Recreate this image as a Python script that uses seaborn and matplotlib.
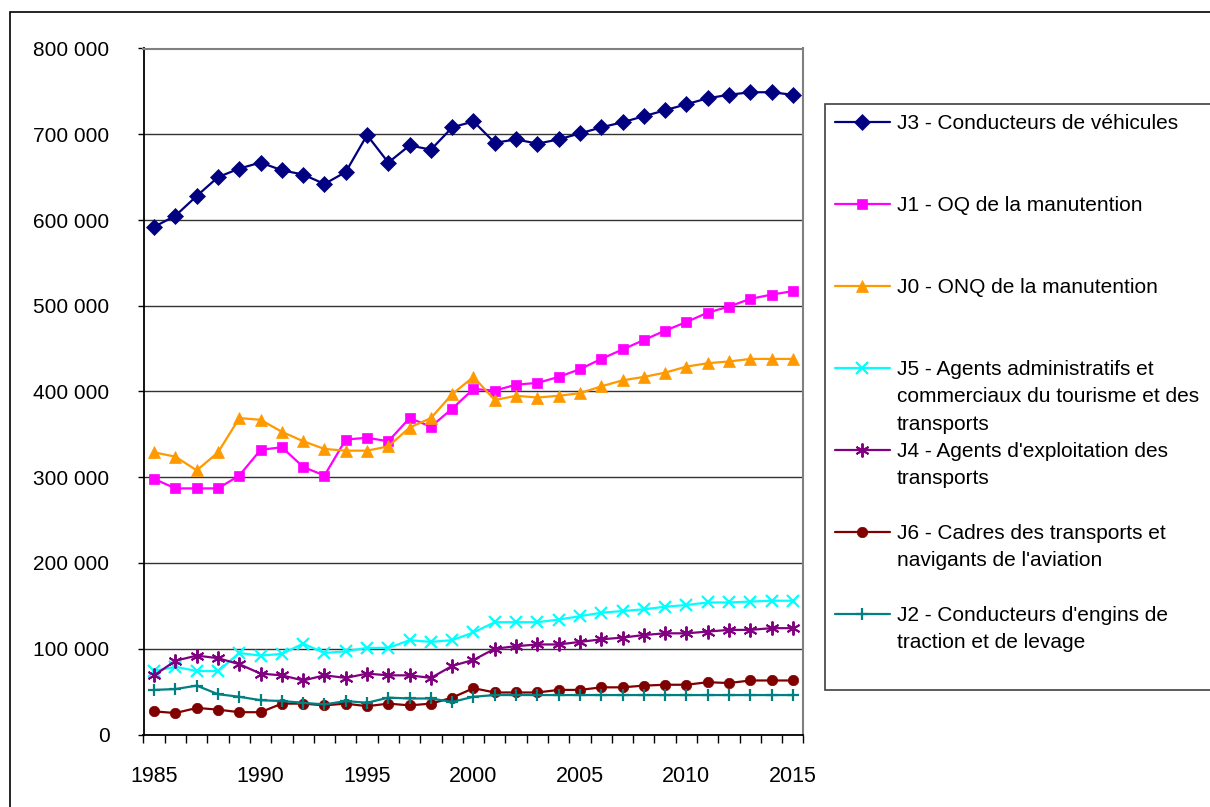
import matplotlib.pyplot as plt
import matplotlib.ticker as mticker
from matplotlib.lines import Line2D
from matplotlib.patches import Rectangle
import seaborn as sns

# années (axe des catégories)
years = list(range(1985, 2016))

# effectifs par famille professionnelle
j3 = [592000, 605000, 628000, 650000, 660000, 667000, 658000, 653000, 642000, 656000,
      699000, 667000, 687000, 682000, 708000, 715000, 690000, 694000, 689000, 694000,
      701000, 708000, 714000, 721000, 728000, 735000, 742000, 746000, 749000, 749000, 746000]
j1 = [298000, 287000, 287000, 287000, 302000, 332000, 335000, 312000, 302000, 344000,
      346000, 342000, 369000, 359000, 380000, 403000, 401000, 408000, 410000, 417000,
      426000, 438000, 449000, 460000, 471000, 481000, 492000, 499000, 508000, 513000, 517000]
j0 = [329000, 324000, 308000, 329000, 369000, 367000, 353000, 342000, 333000, 331000,
      331000, 336000, 358000, 369000, 397000, 417000, 390000, 395000, 393000, 395000,
      398000, 406000, 413000, 417000, 422000, 429000, 433000, 435000, 438000, 438000, 438000]
j5 = [74000, 79000, 74000, 74000, 95000, 92000, 94000, 106000, 95000, 97000,
      101000, 101000, 110000, 108000, 110000, 119000, 131000, 131000, 131000, 134000,
      138000, 142000, 144000, 146000, 149000, 151000, 154000, 154000, 155000, 156000, 156000]
j4 = [69000, 86000, 92000, 89000, 82000, 71000, 69000, 63000, 69000, 66000,
      71000, 69000, 69000, 66000, 80000, 87000, 100000, 103000, 105000, 105000,
      108000, 111000, 113000, 116000, 118000, 118000, 120000, 122000, 122000, 124000, 124000]
j6 = [27000, 25000, 31000, 29000, 26000, 26000, 36000, 36000, 34000, 36000,
      33000, 36000, 34000, 36000, 43000, 54000, 49000, 49000, 49000, 52000,
      52000, 55000, 55000, 57000, 58000, 58000, 61000, 60000, 63000, 63000, 63000]
j2 = [52000, 53000, 57000, 47000, 44000, 40000, 39000, 37000, 35000, 39000,
      37000, 43000, 42000, 42000, 38000, 44000, 46000, 46000, 46000, 46000,
      46000, 46000, 46000, 46000, 46000, 46000, 46000, 46000, 46000, 46000, 46000]

series = [j3, j1, j0, j5, j4, j6, j2]
labels = [
    ["J3 - Conducteurs de véhicules"],
    ["J1 - OQ de la manutention"],
    ["J0 - ONQ de la manutention"],
    ["J5 - Agents administratifs et", "commerciaux du tourisme et des", "transports"],
    ["J4 - Agents d'exploitation des", "transports"],
    ["J6 - Cadres des transports et", "navigants de l'aviation"],
    ["J2 - Conducteurs d'engins de", "traction et de levage"],
]
colors = ['#000080', '#FF00FF', '#FF9900', '#00FFFF', '#800080', '#800000', '#008080']
markers = ['D', 's', '^', 'x', (6, 2, 0), 'o', '+']
msizes = [8, 7.5, 8.5, 8, 10, 7.5, 8.5]
mews = [0.5, 0.5, 0.5, 1.6, 1.4, 0.5, 1.6]

sns.set_style('white')
plt.rcParams['font.family'] = ['Liberation Sans', 'DejaVu Sans']
plt.rcParams['text.color'] = 'black'
plt.rcParams['xtick.labelcolor'] = 'black'
plt.rcParams['ytick.labelcolor'] = 'black'

fig = plt.figure(figsize=(12.1, 8.07), dpi=100)
ax = fig.add_axes([143.5 / 1210, (807 - 734.5) / 807, (803.5 - 143.5) / 1210, (734.5 - 48.5) / 807])

handles = []
for vals, c, m, ms, mew in zip(series, colors, markers, msizes, mews):
    sns.lineplot(x=years, y=vals, ax=ax, color=c, marker=m, markersize=ms,
                 markeredgecolor=c, markeredgewidth=mew, linewidth=1.6, legend=False)
    handles.append(ax.lines[-1])

ax.set_xlim(1984.5, 2015.5)
ax.set_ylim(0, 800000)
ax.set_xticks(range(1985, 2016, 5))
ax.xaxis.set_minor_locator(mticker.FixedLocator([y + 0.5 for y in range(1984, 2016)]))
ax.set_yticks(range(0, 800001, 100000))
ax.yaxis.set_major_formatter(mticker.FuncFormatter(lambda v, p: f"{int(v):,}".replace(",", " ")))
ax.tick_params(axis='x', which='both', bottom=True)
ax.tick_params(axis='y', which='major', left=True)
ax.tick_params(axis='x', which='major', length=0, pad=23, labelsize=15.5)
ax.tick_params(axis='x', which='minor', length=5.5, width=1, direction='out', color='black')
ax.tick_params(axis='y', which='major', length=4.5, width=1, direction='out', color='black',
               pad=20, labelsize=15)
ax.set_xlabel('')
ax.set_ylabel('')

ax.yaxis.grid(True, color='#333333', linewidth=1)
ax.xaxis.grid(False)
ax.set_axisbelow(True)
for s in ['left', 'bottom']:
    ax.spines[s].set_color('black')
    ax.spines[s].set_linewidth(1.3)
for s in ['top', 'right']:
    ax.spines[s].set_color('#808080')
    ax.spines[s].set_linewidth(1.5)

# légende : une ligne par entrée, lignes vides pour l'espacement
blank = Line2D([], [], color='none')
leg_h, leg_l = [], []
gaps = [2, 2, 2, 0, 1, 1, 1]
for h, lab, g in zip(handles, labels, gaps):
    leg_h.append(h)
    leg_l.append(lab[0])
    for extra in lab[1:]:
        leg_h.append(blank)
        leg_l.append(extra)
    for _ in range(g):
        leg_h.append(blank)
        leg_l.append(' ')

leg = fig.legend(leg_h, leg_l, loc='upper left',
                 bbox_to_anchor=(825 / 1210, (807 - 103.5) / 807, 0.5, 0), mode='expand',
                 fontsize=15, frameon=True, fancybox=False, framealpha=1,
                 edgecolor='#404040', borderaxespad=0, borderpad=0.5,
                 handlelength=2.6, handletextpad=0.35, labelspacing=0.4, numpoints=1)
leg.get_frame().set_linewidth(1.2)

# cadre extérieur
fig.add_artist(Rectangle((10 / 1210, -0.1), 1.2, 1.1 - 11.7 / 807, fill=False,
                         edgecolor='black', linewidth=1.2, transform=fig.transFigure))

fig.savefig('out.png', dpi=100)
